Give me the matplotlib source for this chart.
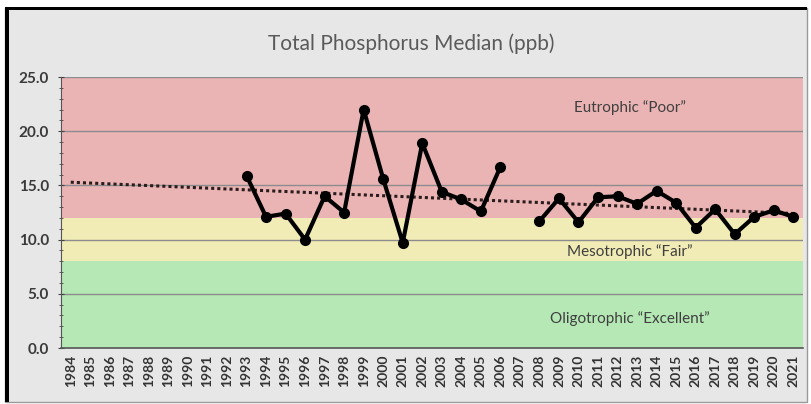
import numpy as np
import matplotlib.pyplot as plt
from matplotlib.patches import Rectangle

plt.rcParams['font.family'] = ['Lato', 'DejaVu Sans']

# data
years = list(range(1984, 2022))
tp_years = [1993, 1994, 1995, 1996, 1997, 1998, 1999, 2000, 2001, 2002, 2003,
            2004, 2005, 2006, 2008, 2009, 2010, 2011, 2012, 2013, 2014, 2015,
            2016, 2017, 2018, 2019, 2020, 2021]
tp_median = [15.9, 12.1, 12.4, 10.0, 14.0, 12.5, 22.0, 15.6, 9.7, 18.9, 14.4,
             13.7, 12.6, 16.7, 11.7, 13.8, 11.6, 13.9, 14.0, 13.3, 14.5, 13.4,
             11.1, 12.8, 10.5, 12.1, 12.7, 12.1]
band_edges = [0, 8, 12, 25]
band_names = ['Oligotrophic \u201cExcellent\u201d', 'Mesotrophic \u201cFair\u201d',
              'Eutrophic \u201cPoor\u201d']
band_label_y = [2.7, 8.9, 22.2]
band_colors = ['#b5e8b5', '#f1ecb5', '#ebb4b4']

fig = plt.figure(figsize=(8.12, 4.04), dpi=100)
fig.patch.set_facecolor('white')
# grey chart area with the dark frame on top/left
fig.patches.append(Rectangle((0.006, 0.005), 0.988, 0.975, transform=fig.transFigure,
                             facecolor='#e7e7e7', edgecolor='#9a9a9a', lw=1, zorder=-3))
fig.patches.append(Rectangle((0.006, 0.975), 0.988, 0.008, transform=fig.transFigure,
                             facecolor='black', edgecolor='none', zorder=-2))
fig.patches.append(Rectangle((0.006, 0.005), 0.005, 0.978, transform=fig.transFigure,
                             facecolor='black', edgecolor='none', zorder=-2))

ax = fig.add_axes([0.0751, 0.1386, 0.9139, 0.6708])
ax.set_facecolor('none')

idx = {y: i for i, y in enumerate(years)}
xs = np.arange(len(years))

for lo, hi, c in zip(band_edges[:-1], band_edges[1:], band_colors):
    ax.axhspan(lo, hi, color=c, zorder=0, lw=0)

for v in [5, 10, 15, 20, 25]:
    ax.axhline(v, color='#8c8c8c', lw=1, zorder=1)

# series, broken where a year is missing
y_full = np.full(len(years), np.nan)
for yr, v in zip(tp_years, tp_median):
    y_full[idx[yr]] = v
ax.plot(xs, y_full, color='black', lw=3, marker='o', ms=7, zorder=4)

# linear trend over the whole category range
px = np.array([idx[y] for y in tp_years])
k, b = np.polyfit(px, tp_median, 1)
ax.plot(xs, k * xs + b, color='#2a1c1c', lw=2.2, ls=(0, (1, 1)), zorder=3)

for name, yl in zip(band_names, band_label_y):
    ax.text(0.767, yl, name, transform=ax.get_yaxis_transform(), ha='center',
            va='center', fontsize=11, color='#3f3f3f')

ax.set_xlim(-0.5, len(years) - 0.5)
ax.set_ylim(0, 25)
ax.set_xticks(xs)
ax.set_xticklabels([str(y) for y in years], rotation=90, fontsize=10,
                   color='#333333', fontweight='bold')
ax.set_yticks([0, 5, 10, 15, 20, 25])
ax.set_yticklabels(['%.1f' % v for v in [0, 5, 10, 15, 20, 25]], fontsize=11,
                   color='#3a3a3a', fontweight='bold')
ax.set_yticks(np.arange(0, 26, 1), minor=True)
ax.tick_params(axis='x', length=0, pad=5)
ax.tick_params(axis='y', which='major', length=5, direction='inout', color='#444444', pad=6)
ax.tick_params(axis='y', which='minor', length=3, direction='inout', color='#444444')
for s in ['top', 'right']:
    ax.spines[s].set_visible(False)
ax.spines['left'].set_color('#555555')
ax.spines['bottom'].set_color('#555555')
ax.spines['bottom'].set_linewidth(1.2)

fig.text(0.507, 0.893, 'Total Phosphorus Median (ppb)', ha='center', va='center',
         fontsize=15, color='#5a5a5a')

fig.savefig('out.png', dpi=100)
